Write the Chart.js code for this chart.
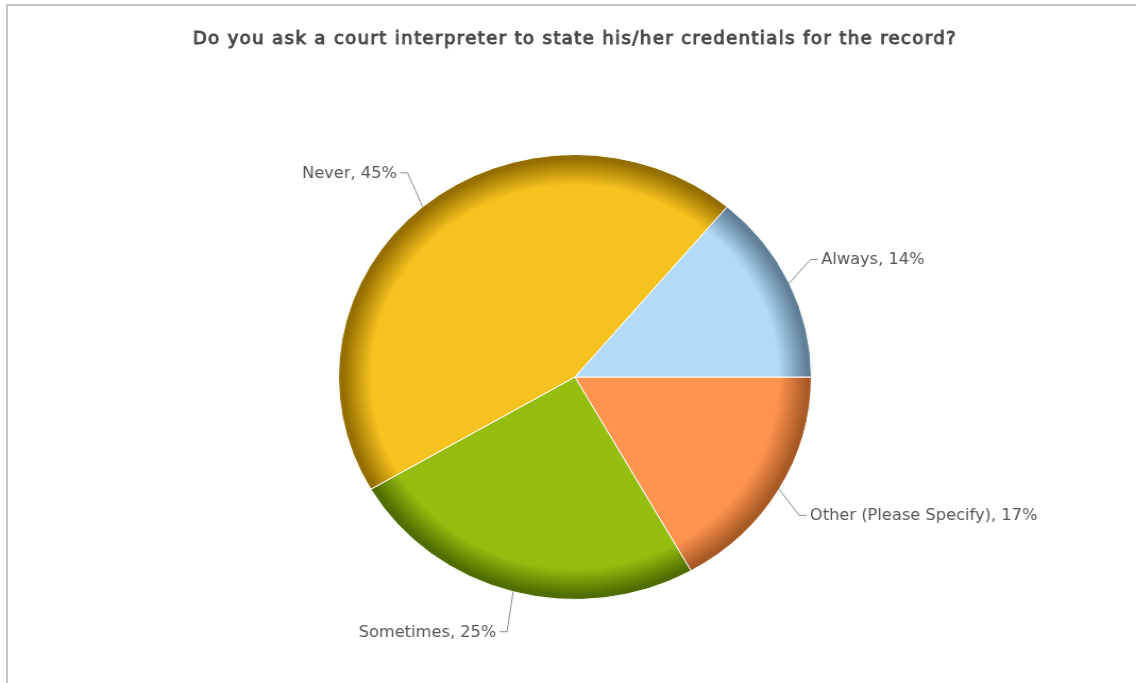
<!DOCTYPE html>
<html>
<head>
<meta charset="utf-8">
<script src="https://cdn.jsdelivr.net/npm/chart.js@4.4.1/dist/chart.umd.min.js"></script>
<style>
    html, body { margin: 0; padding: 0; background: #fff; overflow: hidden; }
    #frame {
        position: absolute; left: 6px; top: 4px; width: 1200px; height: 800px;
        border-left: 2px solid #c6c6c6; border-top: 2px solid #c6c6c6;
    }
    #wrap {
        position: absolute; left: 0; top: 0; width: 1069px; height: 683px;
        transform: scaleX(1.0627); transform-origin: 0 0;
    }
</style>
</head>
<body>
<div id="frame"></div>
<div id="wrap"><canvas id="pie"></canvas></div>
<script>
// slices listed clockwise from 3 o'clock
const categories = ['Other (Please Specify)', 'Sometimes', 'Never', 'Always'];
const percents = [17, 25, 45, 14];
const sliceColors = ['#ff944f', '#95bd10', '#f6c220', '#b3dbf7'];
const edgeColors = ['#a85a26', '#4f6d00', '#946f00', '#5f7f96'];

const titleText = 'Do you ask a court interpreter to state his/her credentials for the record?';

function shaded(ctx) {
    const chart = ctx.chart;
    const area = chart.chartArea;
    const i = ctx.dataIndex;
    if (!area) return sliceColors[i];
    const cx = (area.left + area.right) / 2;
    const cy = (area.top + area.bottom) / 2;
    const r = Math.min(area.right - area.left, area.bottom - area.top) / 2;
    const g = chart.ctx.createRadialGradient(cx, cy, 0, cx, cy, r);
    g.addColorStop(0, sliceColors[i]);
    g.addColorStop(0.86, sliceColors[i]);
    g.addColorStop(0.98, edgeColors[i]);
    g.addColorStop(1, edgeColors[i]);
    return g;
}

// title drawn by hand: the bold DejaVu face resolves to a narrow font here
const titleDraw = {
    id: 'titleDraw',
    afterDraw(chart) {
        const c = chart.ctx;
        const area = chart.chartArea;
        c.save();
        c.font = '17px "DejaVu Sans", Verdana, sans-serif';
        c.letterSpacing = '1.3px';
        c.textAlign = 'center';
        c.textBaseline = 'middle';
        c.fillStyle = '#474747';
        c.strokeStyle = '#474747';
        c.lineWidth = 0.9;
        const x = (area.left + area.right) / 2;
        c.fillText(titleText, x, 40);
        c.strokeText(titleText, x, 40);
        c.restore();
    }
};

const leaderLabels = {
    id: 'leaderLabels',
    afterDatasetsDraw(chart) {
        const c = chart.ctx;
        const meta = chart.getDatasetMeta(0);
        c.save();
        c.font = '15.3px "DejaVu Sans", Verdana, sans-serif';
        c.textBaseline = 'middle';
        meta.data.forEach((arc, i) => {
            const p = arc.getProps(['x', 'y', 'startAngle', 'endAngle', 'outerRadius'], true);
            const mid = (p.startAngle + p.endAngle) / 2;
            const cos = Math.cos(mid), sin = Math.sin(mid);
            const ex = p.x + cos * p.outerRadius, ey = p.y + sin * p.outerRadius;
            const bx = p.x + cos * (p.outerRadius + 22);
            const by = p.y + sin * (p.outerRadius + 30) + Math.sign(sin) * 11;
            const side = cos >= 0 ? 1 : -1;
            const hx = bx + side * 7;
            c.strokeStyle = '#8c8c8c';
            c.lineWidth = 1;
            c.beginPath();
            c.moveTo(ex, ey);
            c.lineTo(bx, by);
            c.lineTo(hx, by);
            c.stroke();
            c.fillStyle = '#555555';
            c.textAlign = side > 0 ? 'left' : 'right';
            c.fillText(`${chart.data.labels[i]}, ${percents[i]}%`, hx + side * 3, by + 1);
        });
        c.restore();
    }
};

new Chart(document.getElementById('pie'), {
    type: 'pie',
    data: {
        labels: categories,
        datasets: [{
            data: percents,
            backgroundColor: shaded,
            borderColor: '#ffffff',
            borderWidth: 1,
            hoverOffset: 0
        }]
    },
    options: {
        responsive: true,
        maintainAspectRatio: false,
        animation: false,
        rotation: 90,
        layout: { padding: { left: 318, right: 305, top: 154, bottom: 83 } },
        plugins: {
            legend: { display: false },
            tooltip: { enabled: false },
            title: { display: false }
        }
    },
    plugins: [leaderLabels, titleDraw]
});
</script>
</body>
</html>
